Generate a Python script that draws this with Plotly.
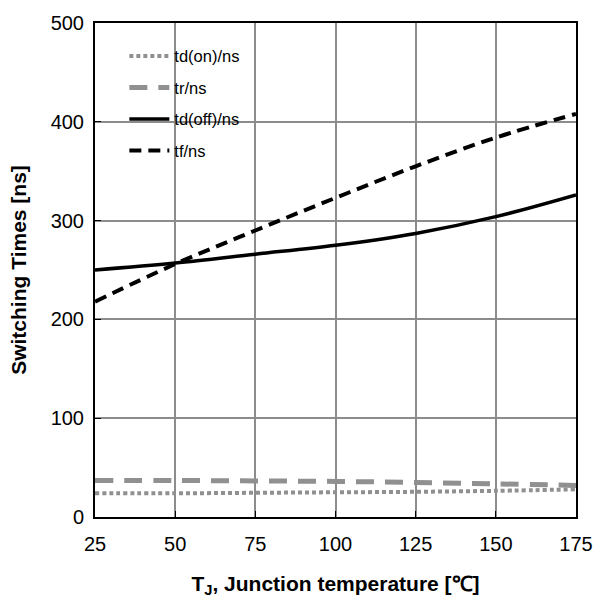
import plotly.graph_objects as go

temps = [25, 50, 75, 100, 125, 150, 175]
td_on = [24, 24, 24.5, 25, 25.5, 26.5, 28]
tr = [37, 37, 36.5, 36, 35, 33.5, 32]
td_off = [250, 257, 266, 275, 287, 304, 326]
tf = [218, 256, 290, 323, 355, 384, 408]

x_ticks = [25, 50, 75, 100, 125, 150, 175]
y_ticks = [0, 100, 200, 300, 400, 500]

fig = go.Figure()
fig.add_trace(go.Scatter(x=temps, y=td_on, name="td(on)/ns", mode="lines", legendgroup="a",
                         line=dict(color="#909090", width=4, dash="4px,3px", shape="spline")))
fig.add_trace(go.Scatter(x=temps, y=tr, name="tr/ns", mode="lines", legendgroup="b",
                         line=dict(color="#909090", width=5, dash="18px,11px", shape="spline")))
fig.add_trace(go.Scatter(x=temps, y=td_off, name="td(off)/ns", mode="lines", legendgroup="c",
                         line=dict(color="black", width=3.5, shape="spline")))
fig.add_trace(go.Scatter(x=temps, y=tf, name="tf/ns", mode="lines", legendgroup="d",
                         line=dict(color="black", width=4, dash="12px,7px", shape="spline")))

fig.update_layout(
    width=605, height=605,
    margin=dict(l=95, r=20, t=22, b=88),
    paper_bgcolor="white", plot_bgcolor="white",
    font=dict(family="Liberation Sans, Arial, sans-serif", color="black"),
    showlegend=True,
    legend=dict(x=0.061, y=0.968, xanchor="left", yanchor="top",
                bgcolor="rgba(0,0,0,0)", font=dict(size=16.5),
                tracegroupgap=7, itemwidth=40),
)
fig.update_xaxes(range=[25, 175], tickvals=x_ticks, ticktext=[str(v) for v in x_ticks],
                 showgrid=True, gridcolor="#8c8c8c", gridwidth=1.5,
                 showline=True, linecolor="black", linewidth=2, mirror=True,
                 ticks="inside", ticklen=6, tickcolor="black",
                 tickfont=dict(size=20), zeroline=False, ticklabelstandoff=8,
                 title=dict(text="<b>T<sub>J</sub>, Junction temperature [℃]</b>",
                            font=dict(size=21), standoff=22))
fig.update_yaxes(range=[0, 500], tickvals=y_ticks, ticktext=[str(v) for v in y_ticks],
                 showgrid=True, gridcolor="#8c8c8c", gridwidth=1.5,
                 showline=True, linecolor="black", linewidth=2, mirror=True,
                 ticks="inside", ticklen=6, tickcolor="black",
                 tickfont=dict(size=20), zeroline=False, ticklabelstandoff=5,
                 title=dict(text="<b>Switching Times [ns]</b>",
                            font=dict(size=21), standoff=18))

fig.write_html("out.html")
